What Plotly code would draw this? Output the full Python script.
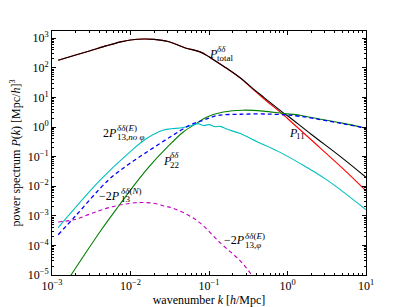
import plotly.graph_objects as go

# ---- data ----
total_k = [0.0012, 0.002, 0.003, 0.005, 0.0075, 0.01, 0.015, 0.02, 0.03, 0.05, 0.077,
           0.1, 0.113, 0.168, 0.25, 0.37, 0.5, 0.885, 1.0, 2.0, 5.0, 10.0]
total_p = [181, 270, 370, 560, 750, 870, 940, 910, 770, 470, 345,
           235, 190, 96, 46, 19, 10, 3.0, 2.4, 0.57, 0.089, 0.02]

p11_k = [0.0012, 0.002, 0.003, 0.005, 0.0075, 0.01, 0.015, 0.02, 0.03, 0.05, 0.077,
         0.1, 0.113, 0.168, 0.25, 0.37, 0.5, 0.885, 1.0, 2.0, 5.0, 10.0]
p11_p = [181, 270, 370, 560, 750, 870, 940, 910, 770, 470, 345,
         235, 190, 96, 45, 18, 9.0, 2.6, 1.94, 0.37, 0.041, 0.007]

p22_k = [0.0016, 0.0043, 0.0073, 0.012, 0.0174, 0.029, 0.047, 0.07, 0.093,
         0.152, 0.27, 0.49, 0.885, 1.44, 2.0, 5.0, 10.0]
p22_p = [7.0e-6, 3.5e-4, 2.4e-3, 0.014, 0.047, 0.2, 0.68, 1.35, 2.15,
         3.2, 3.7, 3.45, 2.86, 2.5, 2.1, 1.35, 0.91]

p13noPhi_k = [0.0012, 0.002, 0.0052, 0.009, 0.016, 0.032, 0.057, 0.085, 0.125,
              0.25, 0.66, 1.44, 5.0, 10.0]
p13noPhi_p = [2.3e-4, 1.0e-3, 0.016, 0.05, 0.14, 0.46, 1.15, 1.7, 2.4,
              2.7, 2.7, 2.3, 1.3, 0.91]

p13N_k = [0.0012, 0.0041, 0.00986, 0.016, 0.026, 0.047, 0.0625, 0.072, 0.085, 0.1,
          0.12, 0.14, 0.168, 0.25, 0.41, 0.76, 1.44, 3.2, 10.0]
p13N_p = [4.0e-4, 0.016, 0.145, 0.41, 0.78, 0.96, 1.15, 1.3, 1.12, 1.2,
          1.02, 1.05, 0.85, 0.6, 0.32, 0.15, 0.059, 0.016, 0.0016]

p13phi_k = [0.0012, 0.00196, 0.0032, 0.00575, 0.0114, 0.015, 0.0205, 0.0275, 0.035,
            0.07, 0.14, 0.25, 0.35, 0.42]
p13phi_p = [6.2e-4, 7.5e-4, 1.2e-3, 2.0e-3, 2.75e-3, 2.8e-3, 2.6e-3, 2.1e-3, 1.8e-3,
            7.0e-4, 1.2e-4, 3.0e-5, 1.0e-5, 5.0e-6]

x_tickvals = [1e-3, 1e-2, 1e-1, 1e0, 1e1]
x_ticktext = ["10<sup>−3</sup>", "10<sup>−2</sup>", "10<sup>−1</sup>", "10<sup>0</sup>", "10<sup>1</sup>"]
y_tickvals = [1e-5, 1e-4, 1e-3, 1e-2, 1e-1, 1e0, 1e1, 1e2, 1e3]
y_ticktext = ["10<sup>−5</sup>", "10<sup>−4</sup>", "10<sup>−3</sup>", "10<sup>−2</sup>", "10<sup>−1</sup>",
              "10<sup>0</sup>", "10<sup>1</sup>", "10<sup>2</sup>", "10<sup>3</sup>"]

FONT = "Liberation Serif"

fig = go.Figure()
fig.add_trace(go.Scatter(x=p11_k, y=p11_p, mode="lines", line=dict(color="#ff0000", width=1.1, shape="spline")))
fig.add_trace(go.Scatter(x=total_k, y=total_p, mode="lines", line=dict(color="#000000", width=1.1, shape="spline")))
fig.add_trace(go.Scatter(x=p22_k, y=p22_p, mode="lines", line=dict(color="#008000", width=1.1, shape="spline")))
fig.add_trace(go.Scatter(x=p13N_k, y=p13N_p, mode="lines", line=dict(color="#00bfbf", width=1.1, shape="spline")))
fig.add_trace(go.Scatter(x=p13noPhi_k, y=p13noPhi_p, mode="lines",
                         line=dict(color="#0000ff", width=1.3, dash="4px,3px", shape="spline")))
fig.add_trace(go.Scatter(x=p13phi_k, y=p13phi_p, mode="lines",
                         line=dict(color="#bf00bf", width=1.1, dash="4px,3px", shape="spline")))

def lab(x, y, text, size=12):
    fig.add_annotation(x=x, y=y, text=text, showarrow=False, xanchor="left", yanchor="middle",
                       borderpad=0, font=dict(family=FONT, size=size, color="black"))

# P_total
lab(-1.013, 2.46, "<i>P</i>")
lab(-0.915, 2.63, "<i>δδ</i>", 9)
lab(-0.915, 2.33, "total", 9)
# P_11
lab(0.006, -0.19, "<i>P</i>")
lab(0.1, -0.29, "11", 9)
# 2P_13,no phi (E)
lab(-2.36, -0.21, "2<i>P</i>")
lab(-2.19, -0.05, "<i>δδ</i>(<i>E</i>)", 9)
lab(-2.19, -0.33, "13,<i>no φ</i>", 9)
# P_22
lab(-1.599, -1.14, "<i>P</i>")
lab(-1.505, -0.96, "<i>δδ</i>", 9)
lab(-1.505, -1.27, "22", 9)
# -2P_13 (N)
lab(-2.41, -2.34, "−2<i>P</i>")
lab(-2.13, -2.15, "<i>δδ</i>(<i>N</i>)", 9)
lab(-2.13, -2.43, "13", 9)
# -2P_13,phi (E)
lab(-0.818, -3.82, "−2<i>P</i>")
lab(-0.55, -3.68, "<i>δδ</i>(<i>E</i>)", 9)
lab(-0.55, -4.0, "13,<i>φ</i>", 9)

axis_common = dict(
    type="log", showline=True, linecolor="black", linewidth=1, mirror="allticks",
    ticks="inside", ticklen=4, tickcolor="black", tickwidth=1, tickmode="array",
    showgrid=False, zeroline=False, automargin=False,
    tickfont=dict(family=FONT, size=12, color="black"),
    minor=dict(ticks="inside", ticklen=2, tickcolor="black", tickwidth=1, dtick="D1", showgrid=False),
)

fig.update_layout(
    width=407, height=307,
    margin=dict(l=52, r=41, t=31, b=32),
    paper_bgcolor="white", plot_bgcolor="white",
    showlegend=False,
    font=dict(family=FONT, size=12, color="black"),
    xaxis=dict(axis_common, range=[-3, 1], tickvals=x_tickvals, ticktext=x_ticktext,
               title=dict(text="wavenumber <i>k</i> [<i>h</i>/Mpc]", standoff=2,
                          font=dict(family=FONT, size=12, color="black"))),
    yaxis=dict(axis_common, range=[-5, 3.243], tickvals=y_tickvals, ticktext=y_ticktext,
               title=dict(text="power spectrum <i>P</i>(<i>k</i>) [Mpc/<i>h</i>]<sup>3</sup>", standoff=4,
                          font=dict(family=FONT, size=12, color="black"))),
)

fig.write_html("out.html", config={"displayModeBar": False},
               post_script="document.body.style.margin='0';document.body.style.overflow='hidden';")
